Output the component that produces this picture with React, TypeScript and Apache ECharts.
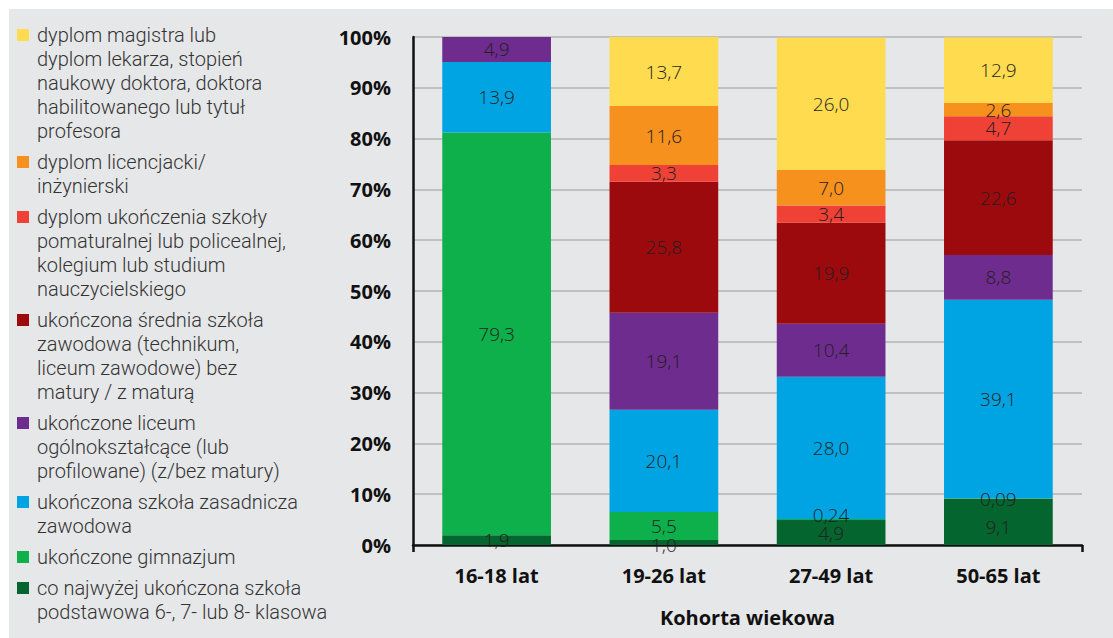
import React, { useEffect, useRef } from "react";
import * as echarts from "echarts";

const categories = ["16-18 lat", "19-26 lat", "27-49 lat", "50-65 lat"];

const seriesNames = [
  "co najwyżej ukończona szkoła\npodstawowa 6-, 7- lub 8- klasowa",
  "ukończone gimnazjum",
  "ukończona szkoła zasadnicza\nzawodowa",
  "ukończone liceum\nogólnokształcące (lub\nprofilowane) (z/bez matury)",
  "ukończona średnia szkoła\nzawodowa (technikum,\nliceum zawodowe) bez\nmatury / z maturą",
  "dyplom ukończenia szkoły\npomaturalnej lub policealnej,\nkolegium lub studium\nnauczycielskiego",
  "dyplom licencjacki/\ninżynierski",
  "dyplom magistra lub\ndyplom lekarza, stopień\nnaukowy doktora, doktora\nhabilitowanego lub tytuł\nprofesora",
];

const podstawowa = [1.9, 1.0, 4.9, 9.1];
const gimnazjum = [79.3, 5.5, 0.24, 0.09];
const zasadnicza = [13.9, 20.1, 28.0, 39.1];
const liceum = [4.9, 19.1, 10.4, 8.8];
const sredniaZawodowa = [null, 25.8, 19.9, 22.6];
const policealna = [null, 3.3, 3.4, 4.7];
const licencjat = [null, 11.6, 7.0, 2.6];
const magister = [null, 13.7, 26.0, 12.9];

const seriesValues = [
  podstawowa,
  gimnazjum,
  zasadnicza,
  liceum,
  sredniaZawodowa,
  policealna,
  licencjat,
  magister,
];

const colors = [
  "#04652f",
  "#0db04b",
  "#00a4e2",
  "#6e2c8f",
  "#9d0a0e",
  "#ef4136",
  "#f7911e",
  "#ffdb50",
];

const yTicks = [0, 10, 20, 30, 40, 50, 60, 70, 80, 90, 100];

// small label nudges for thin segments: [seriesIndex, categoryIndex, dy]
const labelNudges: [number, number, number][] = [
  [0, 1, 3],
  [1, 2, -4],
  [0, 3, 5],
];

function fmt(v: number): string {
  const tenths = v * 10;
  const s = Math.abs(tenths - Math.round(tenths)) < 1e-9 ? v.toFixed(1) : v.toFixed(2);
  return s.replace(".", ",");
}

export default function App() {
  const ref = useRef<HTMLDivElement>(null);
  useEffect(() => {
    if (!ref.current) return;
    const chart = echarts.init(ref.current, null, { renderer: "svg" });
    const font = "'Open Sans', 'Noto Sans', sans-serif";
    const legendFont = "Roboto, 'Open Sans', sans-serif";

    const series = seriesNames.map((name, si) => ({
      name,
      type: "bar",
      stack: "total",
      barWidth: "65%",
      itemStyle: { color: colors[si] },
      data: seriesValues[si].map((v, ci) => {
        const nudge = labelNudges.find((n) => n[0] === si && n[1] === ci);
        const item: any = { value: v };
        if (nudge) item.label = { offset: [0, nudge[2]] };
        return item;
      }),
      label: {
        show: true,
        position: "inside",
        color: "#231f20",
        fontSize: 19,
        fontFamily: font,
        fontWeight: 300,
        formatter: (p: any) => (p.value == null ? "" : fmt(p.value)),
      },
    }));

    // legend drawn as graphic, top-down order = reversed series
    const legendGraphics: any[] = [];
    let y = 14;
    const lineH = 24;
    for (let k = seriesNames.length - 1; k >= 0; k--) {
      const lines = seriesNames[k].split("\n");
      legendGraphics.push({
        type: "rect",
        shape: { x: 8, y: y + 6, width: 12, height: 12 },
        style: { fill: colors[k] },
      });
      legendGraphics.push({
        type: "text",
        x: 28,
        y: y,
        style: {
          text: seriesNames[k],
          font: `300 20px ${legendFont}`,
          fill: "#333333",
          lineHeight: lineH,
          verticalAlign: "top",
          align: "left",
        },
      });
      y += lines.length * lineH + 7;
    }

    chart.setOption({
      animation: false,
      backgroundColor: "#e6e7e8",
      textStyle: { fontFamily: font },
      grid: { left: 404, right: 31, top: 28, bottom: 93, containLabel: false },
      xAxis: {
        type: "category",
        data: categories,
        name: "Kohorta wiekowa",
        nameLocation: "middle",
        nameGap: 62,
        nameTextStyle: { fontSize: 20, fontWeight: "bold", color: "#111", fontFamily: font },
        axisLine: { lineStyle: { color: "#111", width: 2.5 } },
        axisTick: {
          show: true,
          length: 7,
          interval: (index: number) => index === 0,
          lineStyle: { color: "#111", width: 2.5 },
        },
        axisLabel: {
          fontSize: 20,
          fontWeight: "bold",
          color: "#111",
          margin: 20,
          fontFamily: font,
        },
      },
      yAxis: {
        type: "value",
        min: yTicks[0],
        max: yTicks[yTicks.length - 1],
        interval: 10,
        axisLine: { show: true, lineStyle: { color: "#111", width: 2.5 } },
        axisTick: { show: false },
        axisLabel: {
          formatter: (v: number) => `${v}%`,
          fontSize: 20,
          fontWeight: "bold",
          color: "#111",
          margin: 22,
          fontFamily: font,
        },
        splitLine: { lineStyle: { color: "#b3b3b3", width: 1.5 } },
      },
      graphic: legendGraphics,
      series,
    });
    return () => chart.dispose();
  }, []);

  return (
    <div style={{ position: "fixed", left: 0, top: 0, width: 1113, height: 638, background: "#ffffff" }}>
      <div ref={ref} style={{ position: "absolute", left: 9, top: 9, width: 1104, height: 629 }} />
    </div>
  );
}
